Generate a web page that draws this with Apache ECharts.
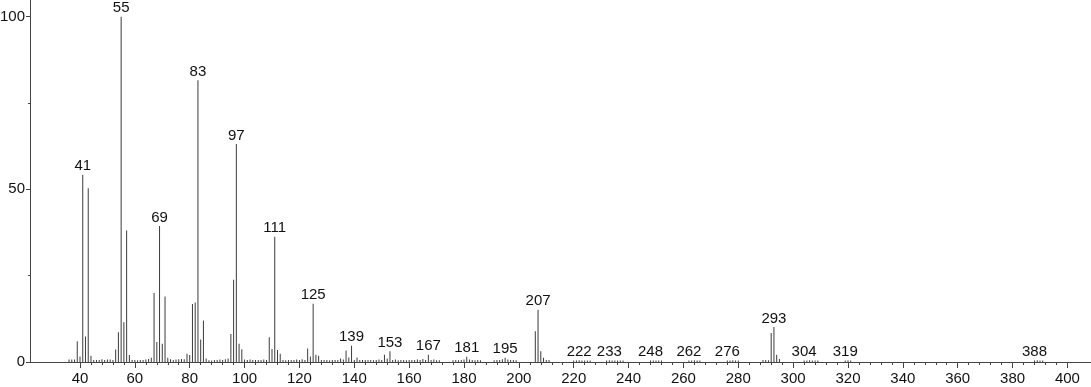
<!DOCTYPE html>
<html>
<head>
<meta charset="utf-8">
<script src="https://cdn.jsdelivr.net/npm/echarts@6/dist/echarts.min.js"></script>
<style>
html,body{margin:0;padding:0;background:#fff;}
#chart{width:1091px;height:387px;}
</style>
</head>
<body>
<div id="chart"></div>
<script>
// m/z values and relative intensities (%)
const mz = [
  36,37,38,39,40,41,42,43,44,45,46,47,48,49,50,51,52,53,54,55,56,57,58,59,60,
  61,62,63,64,65,66,67,68,69,70,71,72,73,74,75,76,77,78,79,80,81,82,83,84,85,
  86,87,88,89,90,91,92,93,94,95,96,97,98,99,100,101,102,103,104,105,106,107,108,109,110,
  111,112,113,114,115,116,117,118,119,120,121,122,123,124,125,126,127,128,129,130,131,132,133,134,135,
  136,137,138,139,140,141,142,143,144,145,146,147,148,149,150,151,152,153,154,155,156,157,158,159,160,
  161,162,163,164,165,166,167,168,169,170,171,176,177,178,179,180,181,182,183,184,185,186,
  191,192,193,194,195,196,197,198,199,206,207,208,209,210,211,
  220,221,222,223,224,225,226,232,233,234,235,236,237,238,
  248,249,250,251,252,262,263,264,265,266,276,277,278,279,280,
  289,290,291,292,293,294,295,304,305,306,307,308,309,319,320,321,388,389,390,391
];
const intensity = [
  0.7,0.7,0.7,6.0,1.6,54.2,7.4,50.3,1.8,0.6,0.6,0.6,0.8,0.6,0.7,0.7,0.6,3.6,8.6,100,11.5,38.1,2.0,0.6,0.6,
  0.5,0.6,0.6,0.7,0.9,1.2,20.0,5.8,39.4,5.3,19.0,1.2,0.8,0.6,0.7,0.8,0.9,0.8,2.4,2.0,16.8,17.2,81.6,6.5,12.0,
  1.0,0.5,0.4,0.6,0.6,0.7,0.6,0.8,1.0,8.1,23.8,63.1,5.3,3.7,0.7,0.6,0.7,0.6,0.6,0.6,0.6,0.7,0.6,7.2,3.8,
  36.3,3.5,2.4,0.6,0.5,0.6,0.6,0.6,0.7,0.6,0.8,0.6,3.9,1.6,16.9,2.1,1.8,0.6,0.6,0.6,0.5,0.6,0.6,0.6,1.0,
  0.7,3.3,1.3,4.7,0.6,1.3,0.6,0.6,0.6,0.6,0.6,0.5,0.6,0.7,0.6,2.1,1.0,3.1,0.6,0.7,0.5,0.6,0.6,0.5,0.6,
  0.6,0.6,0.7,0.6,0.9,0.6,2.1,0.6,0.7,0.5,0.5,0.5,0.6,0.5,0.6,0.7,1.5,0.7,0.6,0.5,0.6,0.5,
  0.5,0.6,0.6,0.8,1.2,0.7,0.6,0.6,0.5,8.9,15.1,3.1,1.2,0.6,0.6,
  0.4,0.4,0.5,0.4,0.4,0.4,0.4,0.4,0.5,0.4,0.4,0.4,0.4,0.4,
  0.4,0.4,0.4,0.4,0.4,0.4,0.4,0.5,0.4,0.4,0.4,0.4,0.5,0.4,0.4,
  0.6,0.6,0.5,8.4,10.1,2.1,0.9,0.4,0.4,0.5,0.4,0.4,0.4,0.4,0.5,0.4,0.4,0.5,0.4,0.4
];
const labeledPeaks = [41,55,69,83,97,111,125,139,153,167,181,195,207,222,233,248,262,276,293,304,319,388];
const xTickLabels = [40,60,80,100,120,140,160,180,200,220,240,260,280,300,320,340,360,380,400];
const xMinorTicks = [];
for (let v = 40; v < 400; v += 20) { for (let k = 1; k <= 4; k++) xMinorTicks.push(v + 4 * k); }
const yTickLabels = [0,50,100];
const yMinorTicks = [25,75];

const FONT = 'Liberation Sans, Arial, sans-serif';
const data = mz.map((m, i) => ({
  value: [m, intensity[i]],
  label: { show: labeledPeaks.indexOf(m) >= 0 }
}));

const chart = echarts.init(document.getElementById('chart'), null, { renderer: 'canvas' });
const X_MIN = 21.77, X_MAX = 408.6, Y_MAX = 104.83;
const axisColor = '#444';
chart.setOption({
  animation: false,
  backgroundColor: '#fff',
  grid: { left: 30, right: 0, top: 0, bottom: 25, containLabel: false, outerBoundsMode: 'none' },
  xAxis: [
    {
      type: 'value', min: X_MIN, max: X_MAX, position: 'bottom',
      axisLine: { show: true, onZero: false, lineStyle: { color: axisColor, width: 1 } },
      axisTick: { show: true, length: 6, customValues: xTickLabels, lineStyle: { color: axisColor } },
      axisLabel: { show: true, customValues: xTickLabels, margin: 9, fontSize: 15, color: '#111', fontFamily: FONT },
      splitLine: { show: false }
    },
    {
      type: 'value', min: X_MIN, max: X_MAX, position: 'bottom', offset: 0,
      axisLine: { show: false },
      axisTick: { show: true, length: 3, customValues: xMinorTicks, lineStyle: { color: axisColor } },
      axisLabel: { show: false },
      splitLine: { show: false }
    }
  ],
  yAxis: [
    {
      type: 'value', min: 0, max: Y_MAX, position: 'left',
      axisLine: { show: true, onZero: false, lineStyle: { color: axisColor, width: 1 } },
      axisTick: { show: true, length: 4, customValues: yTickLabels, lineStyle: { color: axisColor } },
      axisLabel: { show: true, customValues: yTickLabels, margin: 5, fontSize: 15, color: '#111', fontFamily: FONT },
      splitLine: { show: false }
    },
    {
      type: 'value', min: 0, max: Y_MAX, position: 'left', offset: 0,
      axisLine: { show: false },
      axisTick: { show: true, length: 2, customValues: yMinorTicks, lineStyle: { color: axisColor } },
      axisLabel: { show: false },
      splitLine: { show: false }
    }
  ],
  series: [{
    type: 'bar',
    xAxisIndex: 0, yAxisIndex: 0,
    barWidth: 1,
    itemStyle: { color: '#3c3c3c' },
    label: { position: 'top', distance: 1, fontSize: 15, color: '#111', fontFamily: FONT,
      formatter: p => String(p.value[0]) },
    data: data
  }]
});
</script>
</body>
</html>
